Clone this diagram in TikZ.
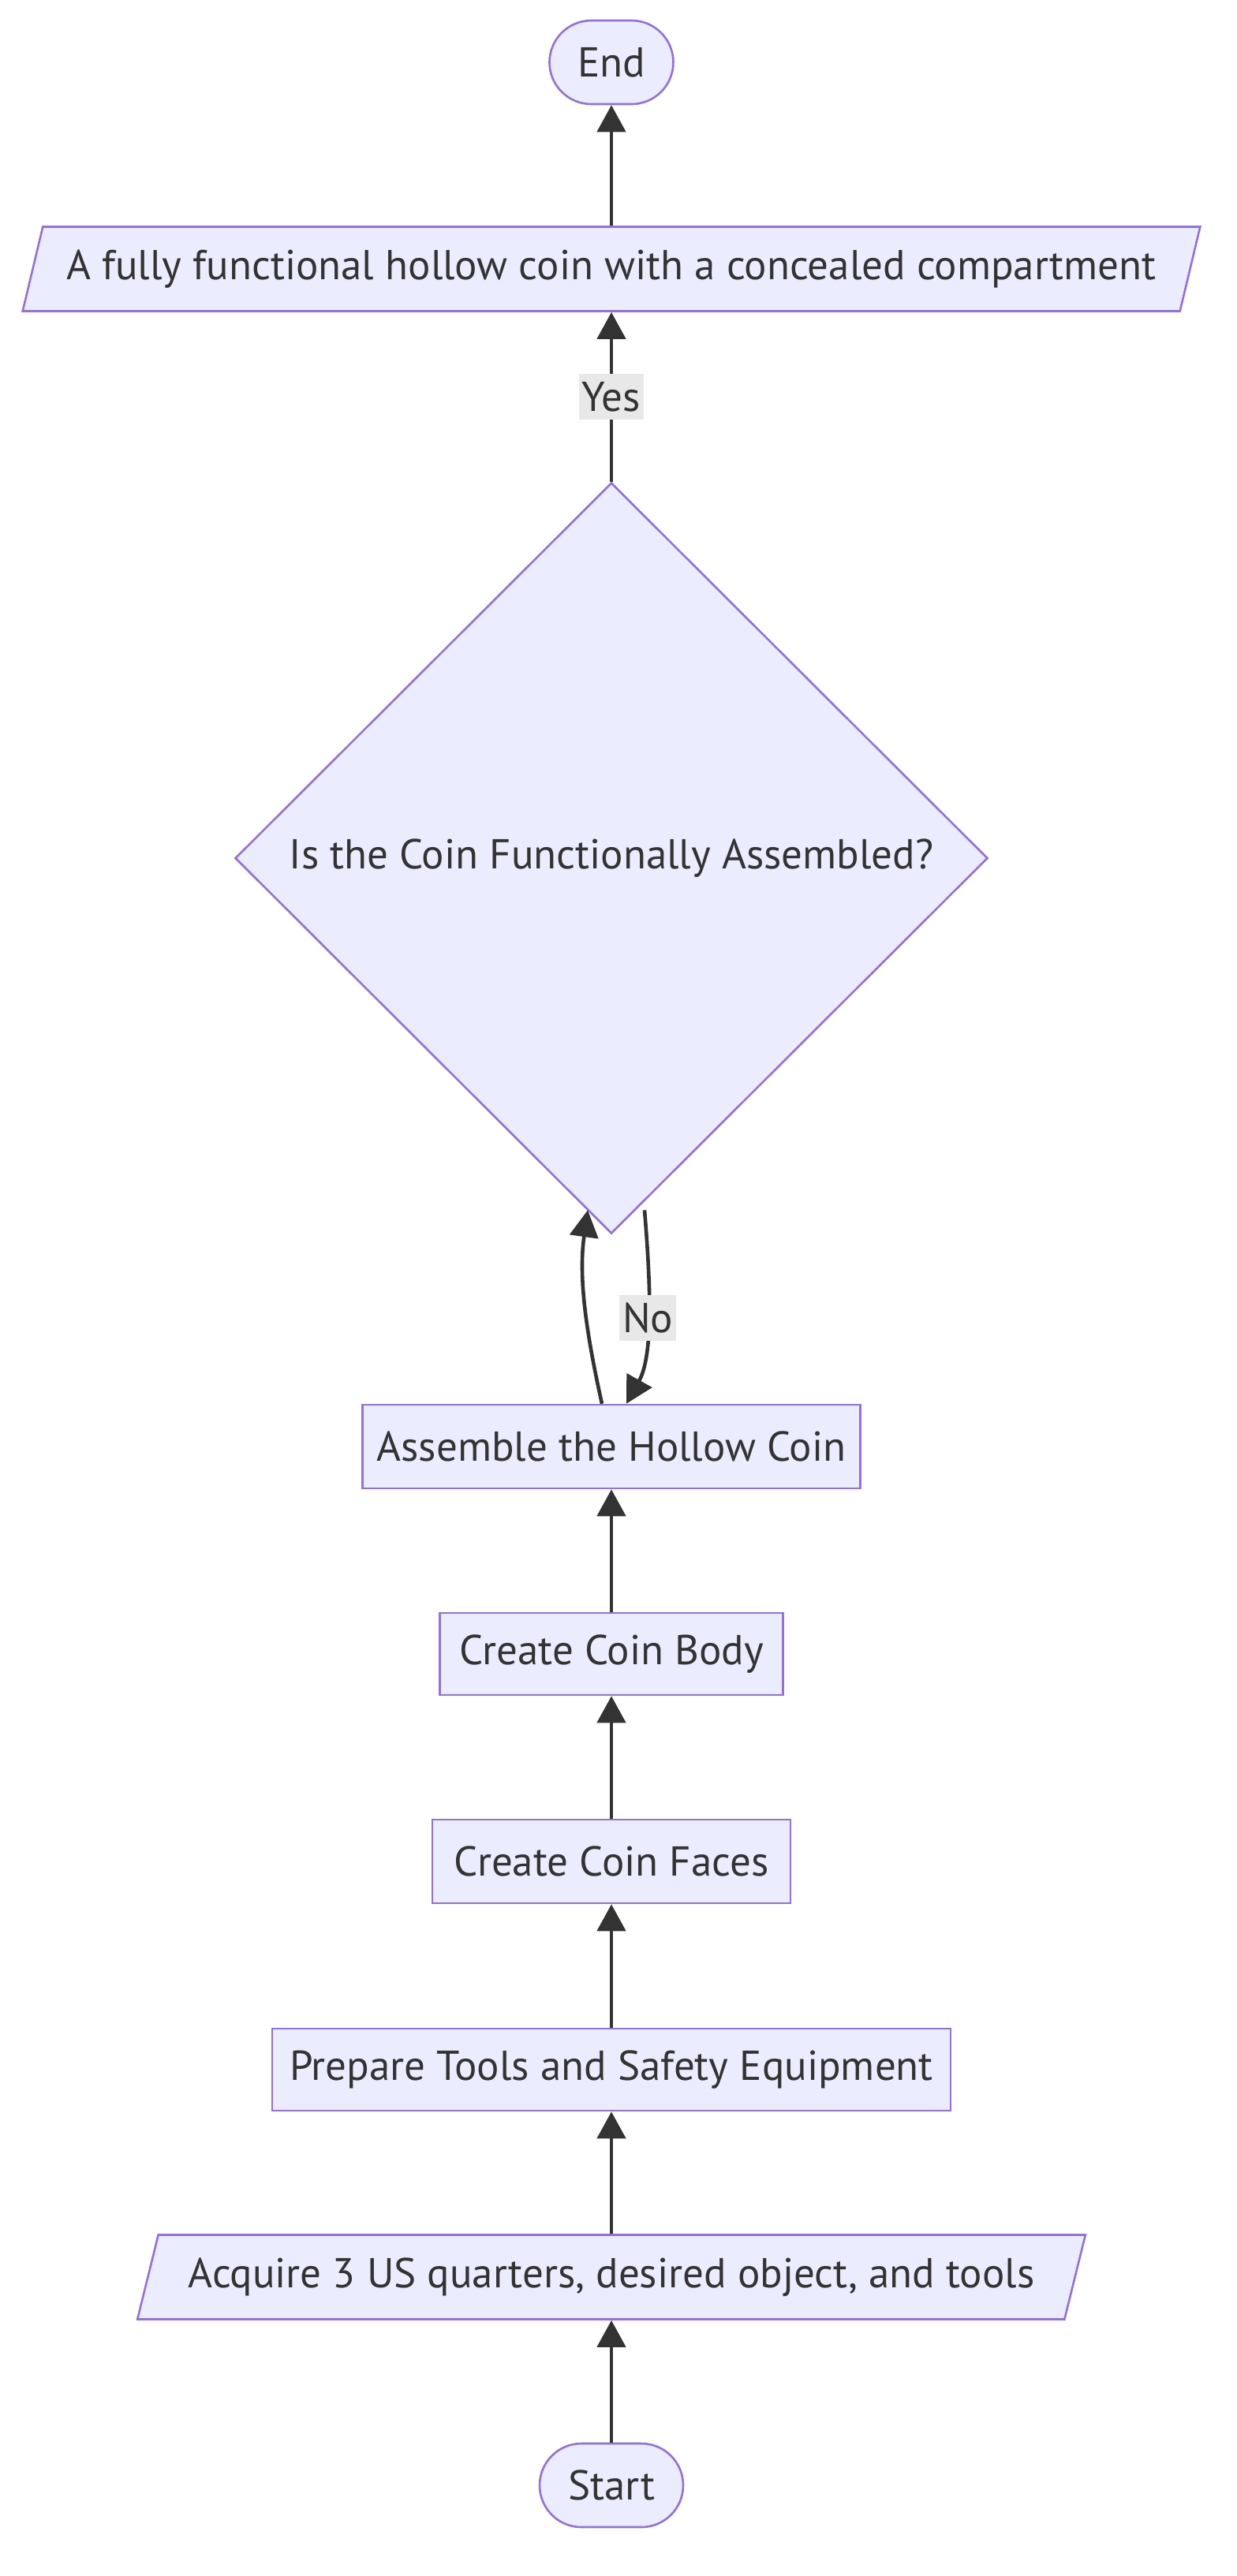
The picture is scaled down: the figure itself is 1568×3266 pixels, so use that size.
\documentclass[tikz,border=0pt]{standalone}
\usepackage{fontspec}
\setmainfont{PT Sans}
\usetikzlibrary{shapes.geometric,arrows.meta,calc}
\definecolor{nodefill}{HTML}{ECECFF}
\definecolor{nodeline}{HTML}{9370DB}
\definecolor{edgecol}{HTML}{333333}
\definecolor{lblbg}{HTML}{E8E8E8}
\definecolor{txtcol}{HTML}{333333}
\begin{document}
\begin{tikzpicture}[x=0.5pt,y=-0.5pt,
  font=\fontsize{26.5}{31}\selectfont, text=txtcol,
  base/.style={fill=nodefill, draw=nodeline, line width=1.3pt, inner sep=0pt},
  procbox/.style={base, rectangle, minimum height=53pt},
  termbox/.style={base, rectangle, rounded corners=26.5pt, minimum height=53pt},
  iobox/.style={base, trapezium, trapezium left angle=63.2, trapezium right angle=116.8,
     trapezium stretches=true, minimum height=53.5pt},
  decbox/.style={base, diamond, minimum width=477pt, minimum height=476pt},
  edge/.style={draw=edgecol, line width=2.3pt, -{Triangle[length=17pt,width=18pt]}},
  lbl/.style={fill=lblbg, text=txtcol, inner xsep=2pt, inner ysep=0pt, minimum height=29pt}]
\useasboundingbox (0,0) rectangle (1568,3266);

\node[termbox, minimum width=78.5pt] (endn) at (775,79) {End};
\node[iobox, minimum width=751.5pt] (fin) at (775,341) {A fully functional hollow coin with a concealed compartment};
\node[decbox] (dec) at (775,1088) {Is the Coin Functionally Assembled?};
\node[procbox, minimum width=315.5pt] (asm) at (775,1834) {Assemble the Hollow Coin};
\node[procbox, minimum width=217.5pt, minimum height=52pt] (body) at (775,2097) {Create Coin Body};
\node[procbox, minimum width=227pt] (faces) at (775,2360) {Create Coin Faces};
\node[procbox, minimum width=430pt, minimum height=52pt] (prep) at (775,2624) {Prepare Tools and Safety Equipment};
\node[iobox, minimum width=605pt] (acq) at (775,2887) {Acquire 3 US quarters, desired object, and tools};
\node[termbox, minimum width=91pt] (start) at (775,3151) {Start};

\draw[edge] (start.north) -- (start.north |- acq.south);
\draw[edge] (prep.south |- acq.north) -- (prep.south);
\draw[edge] (prep.north) -- (faces.south);
\draw[edge] (faces.north) -- (body.south);
\draw[edge] (body.north) -- (asm.south);
\draw[edge] ($(asm.north)+(-12,0)$) .. controls ($(asm.north)+(-32,-90)$) and ($(asm.north)+(-42,-160)$) .. ($(dec.south)+(-30,-31)$);
\draw[edge] ($(dec.south)+(42,-31)$) .. controls ($(dec.south)+(50,66)$) and ($(asm.north)+(53,-61)$) .. ($(asm.north)+(19,0)$) node[lbl, pos=0.5] (nolbl) {No};
\draw[edge] (dec.north) -- (dec.north |- fin.south) node[lbl, pos=0.5] (yeslbl) {Yes};
\draw[edge] (endn.south |- fin.north) -- (endn.south);
\end{tikzpicture}
\end{document}
